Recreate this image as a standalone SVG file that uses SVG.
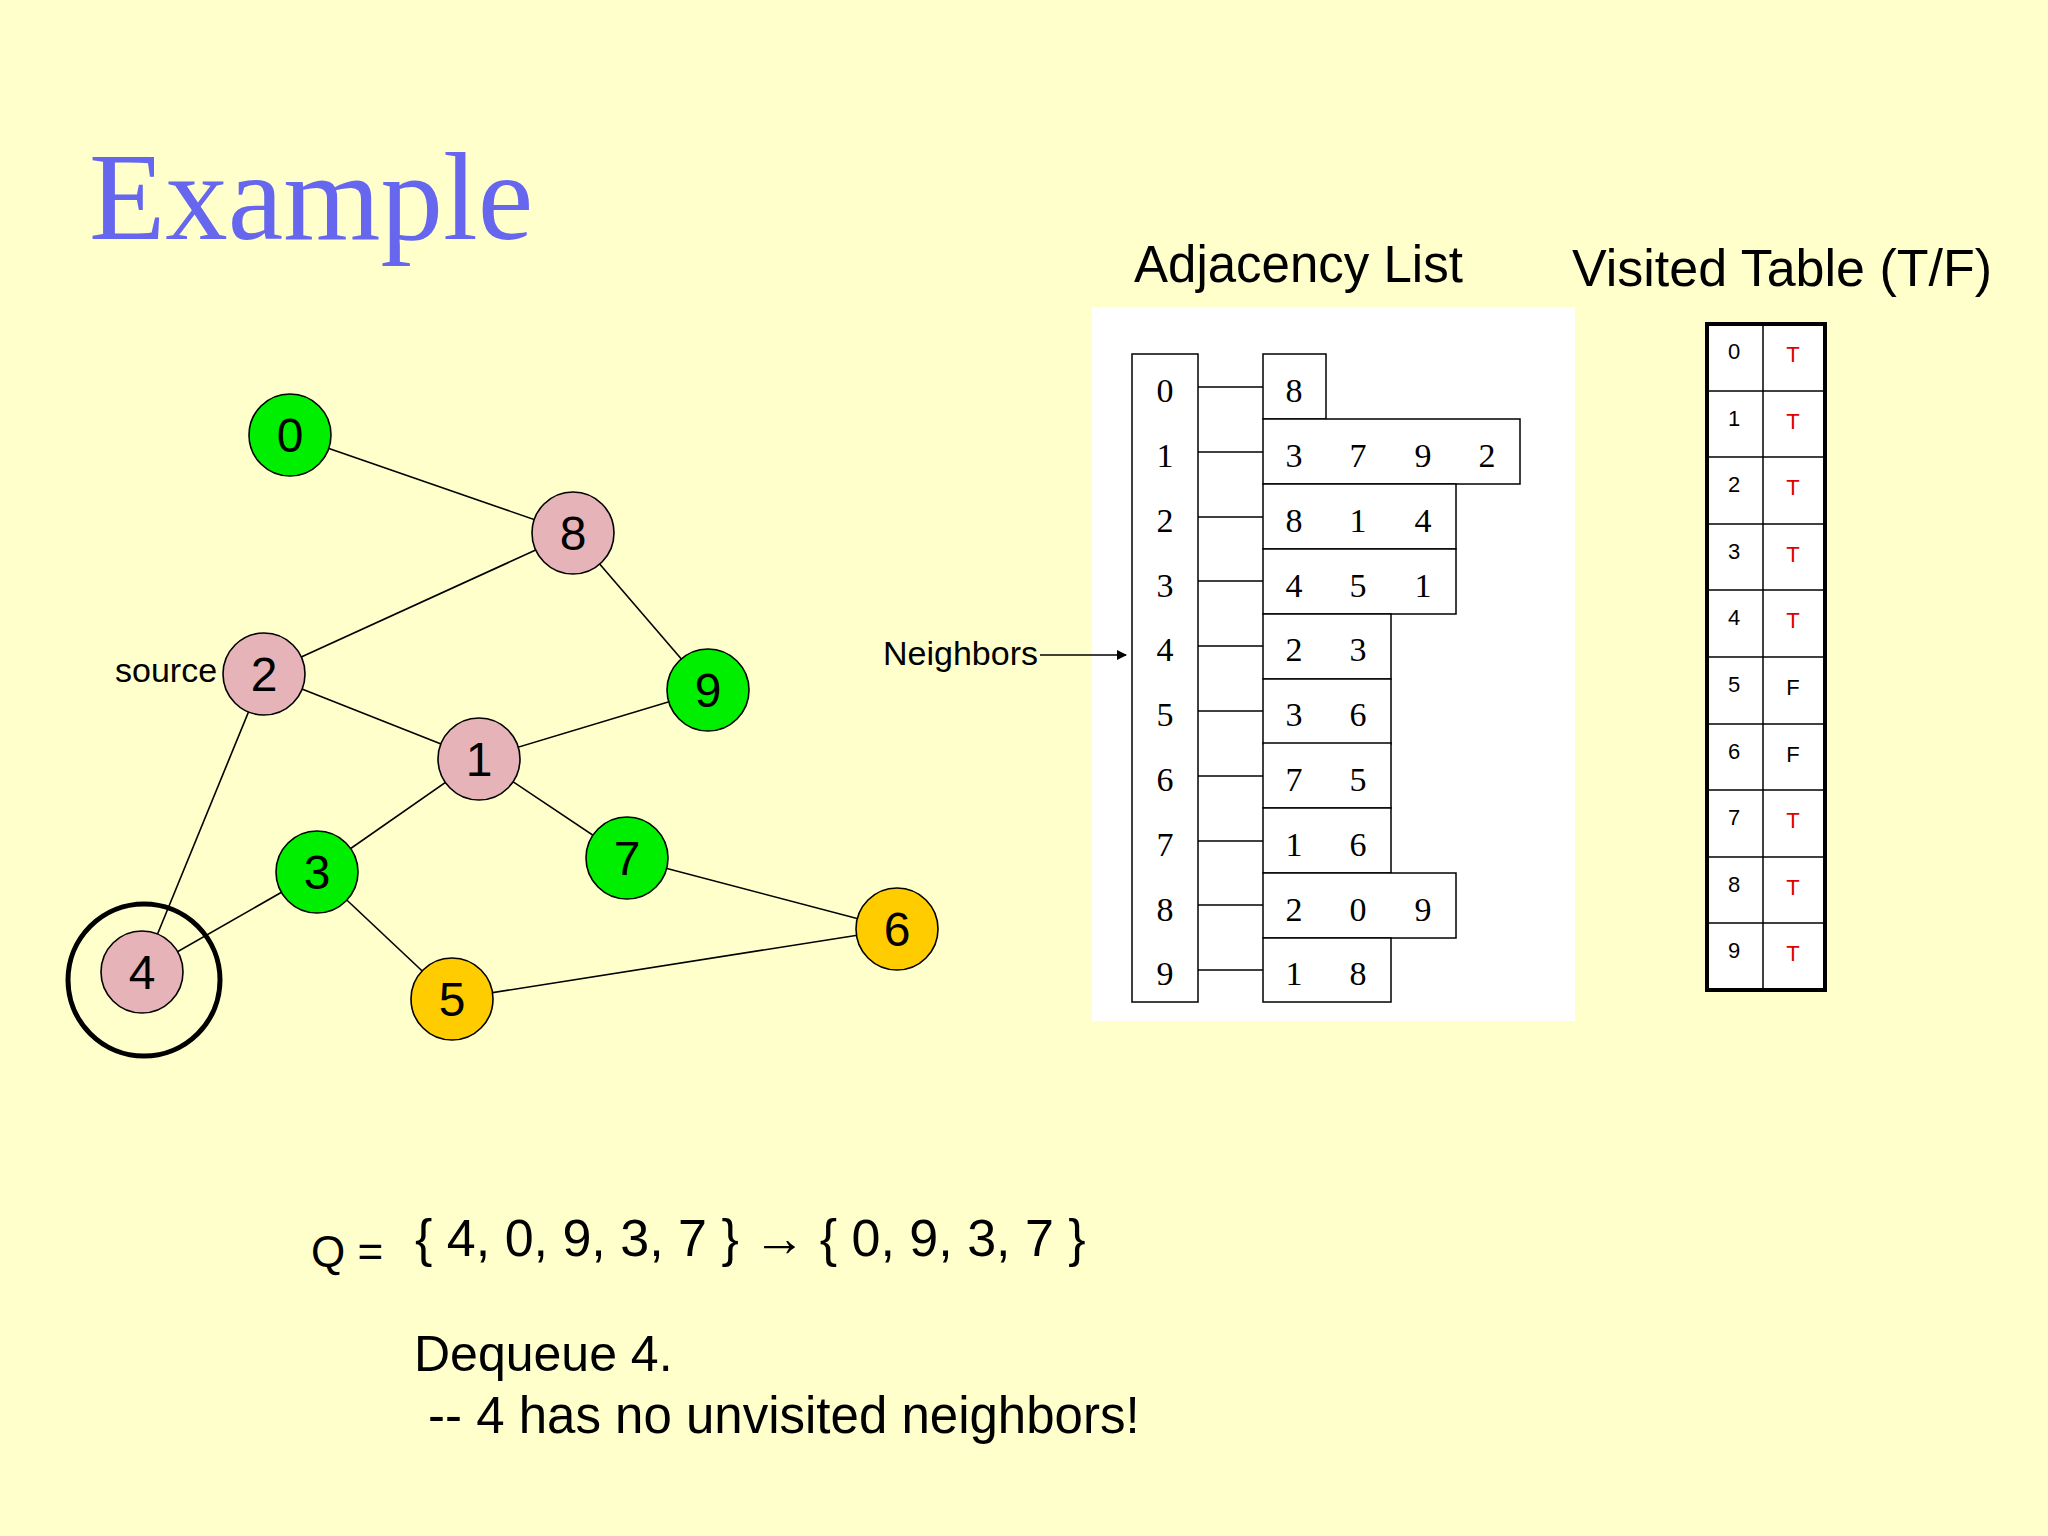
<svg xmlns="http://www.w3.org/2000/svg" width="2048" height="1536" viewBox="0 0 2048 1536">
<style>
.e{stroke:#000;stroke-width:1.6;fill:none}
.n{stroke:#000;stroke-width:1.6}
.nl{font-family:"Liberation Sans",Arial,sans-serif;font-size:48px;text-anchor:middle}
.s{font-family:"Liberation Sans",Arial,sans-serif}
.t{font-family:"Liberation Serif","Times New Roman",serif;font-size:34px;text-anchor:middle}
.b{fill:#fff;stroke:#000;stroke-width:1.5}
.v{font-family:"Liberation Sans",Arial,sans-serif;font-size:22px;text-anchor:middle}
</style>
<defs><marker id="a" markerWidth="10" markerHeight="10" refX="9" refY="5" orient="auto" markerUnits="userSpaceOnUse"><path d="M0,0L10,5L0,10z"/></marker></defs>
<rect width="2048" height="1536" fill="#FFFFCC"/>
<text x="89" y="239" font-family="Liberation Serif,Times New Roman,serif" font-size="125" fill="#6666EE">Example</text>
<g id="connectors">
<line class="e" x1="290" y1="435" x2="573" y2="533"/>
<line class="e" x1="573" y1="533" x2="264" y2="674"/>
<line class="e" x1="573" y1="533" x2="708" y2="690"/>
<line class="e" x1="264" y1="674" x2="479" y2="759"/>
<line class="e" x1="264" y1="674" x2="142" y2="972"/>
<line class="e" x1="479" y1="759" x2="708" y2="690"/>
<line class="e" x1="479" y1="759" x2="317" y2="872"/>
<line class="e" x1="479" y1="759" x2="627" y2="858"/>
<line class="e" x1="317" y1="872" x2="142" y2="972"/>
<line class="e" x1="317" y1="872" x2="452" y2="999"/>
<line class="e" x1="627" y1="858" x2="897" y2="929"/>
<line class="e" x1="452" y1="999" x2="897" y2="929"/>
</g>
<g id="node0"><circle class="n" cx="290" cy="435" r="41" fill="#00EE00"/><text class="nl" x="290" y="452">0</text></g>
<g id="node8"><circle class="n" cx="573" cy="533" r="41" fill="#E6B3B8"/><text class="nl" x="573" y="550">8</text></g>
<g id="node2"><circle class="n" cx="264" cy="674" r="41" fill="#E6B3B8"/><text class="nl" x="264" y="691">2</text></g>
<g id="node9"><circle class="n" cx="708" cy="690" r="41" fill="#00EE00"/><text class="nl" x="708" y="707">9</text></g>
<g id="node1"><circle class="n" cx="479" cy="759" r="41" fill="#E6B3B8"/><text class="nl" x="479" y="776">1</text></g>
<g id="node3"><circle class="n" cx="317" cy="872" r="41" fill="#00EE00"/><text class="nl" x="317" y="889">3</text></g>
<g id="node7"><circle class="n" cx="627" cy="858" r="41" fill="#00EE00"/><text class="nl" x="627" y="875">7</text></g>
<g id="node4"><circle class="n" cx="142" cy="972" r="41" fill="#E6B3B8"/><text class="nl" x="142" y="989">4</text><circle cx="144" cy="980" r="76" fill="none" stroke="#000" stroke-width="5"/></g>
<g id="node5"><circle class="n" cx="452" cy="999" r="41" fill="#FFCC00"/><text class="nl" x="452" y="1016">5</text></g>
<g id="node6"><circle class="n" cx="897" cy="929" r="41" fill="#FFCC00"/><text class="nl" x="897" y="946">6</text></g>
<text class="s" x="115" y="682" font-size="34">source</text>
<text class="s" x="1134" y="282" font-size="51">Adjacency List</text>
<text class="s" x="1572" y="286" font-size="52">Visited Table (T/F)</text>
<g id="adjacency">
<rect x="1092" y="307" width="483" height="714" fill="#fff"/>
<rect class="b" x="1132" y="354" width="66" height="648"/>
<g class="t">
<text x="1165" y="402">0</text><text x="1165" y="467">1</text><text x="1165" y="532">2</text><text x="1165" y="597">3</text><text x="1165" y="661">4</text><text x="1165" y="726">5</text><text x="1165" y="791">6</text><text x="1165" y="856">7</text><text x="1165" y="921">8</text><text x="1165" y="985">9</text>
</g>
<g stroke="#000" stroke-width="1.5">
<line x1="1198" y1="387" x2="1263" y2="387"/><line x1="1198" y1="452" x2="1263" y2="452"/><line x1="1198" y1="517" x2="1263" y2="517"/><line x1="1198" y1="581" x2="1263" y2="581"/><line x1="1198" y1="646" x2="1263" y2="646"/><line x1="1198" y1="711" x2="1263" y2="711"/><line x1="1198" y1="776" x2="1263" y2="776"/><line x1="1198" y1="841" x2="1263" y2="841"/><line x1="1198" y1="905" x2="1263" y2="905"/><line x1="1198" y1="970" x2="1263" y2="970"/>
</g>
<rect class="b" x="1263" y="354" width="63" height="65"/>
<rect class="b" x="1263" y="419" width="257" height="65"/>
<rect class="b" x="1263" y="484" width="193" height="65"/>
<rect class="b" x="1263" y="549" width="193" height="65"/>
<rect class="b" x="1263" y="614" width="128" height="65"/>
<rect class="b" x="1263" y="679" width="128" height="65"/>
<rect class="b" x="1263" y="743" width="128" height="65"/>
<rect class="b" x="1263" y="808" width="128" height="65"/>
<rect class="b" x="1263" y="873" width="193" height="65"/>
<rect class="b" x="1263" y="938" width="128" height="64"/>
<g class="t">
<text x="1294" y="402">8</text>
<text x="1294" y="467">3</text><text x="1358" y="467">7</text><text x="1423" y="467">9</text><text x="1487" y="467">2</text>
<text x="1294" y="532">8</text><text x="1358" y="532">1</text><text x="1423" y="532">4</text>
<text x="1294" y="597">4</text><text x="1358" y="597">5</text><text x="1423" y="597">1</text>
<text x="1294" y="661">2</text><text x="1358" y="661">3</text>
<text x="1294" y="726">3</text><text x="1358" y="726">6</text>
<text x="1294" y="791">7</text><text x="1358" y="791">5</text>
<text x="1294" y="856">1</text><text x="1358" y="856">6</text>
<text x="1294" y="921">2</text><text x="1358" y="921">0</text><text x="1423" y="921">9</text>
<text x="1294" y="985">1</text><text x="1358" y="985">8</text>
</g>
</g>
<g id="neighbors">
<text class="s" x="1038" y="665" font-size="34" text-anchor="end">Neighbors</text>
<line x1="1040" y1="655" x2="1126" y2="655" stroke="#000" stroke-width="1.6" marker-end="url(#a)"/>
</g>
<g id="visited">
<rect x="1707" y="324" width="118" height="666" fill="#fff" stroke="#000" stroke-width="4"/>
<line x1="1763" y1="324" x2="1763" y2="990" stroke="#000" stroke-width="1.5"/>
<g stroke="#000" stroke-width="1.5">
<line x1="1707" y1="391" x2="1825" y2="391"/><line x1="1707" y1="457" x2="1825" y2="457"/><line x1="1707" y1="524" x2="1825" y2="524"/><line x1="1707" y1="590" x2="1825" y2="590"/><line x1="1707" y1="657" x2="1825" y2="657"/><line x1="1707" y1="724" x2="1825" y2="724"/><line x1="1707" y1="790" x2="1825" y2="790"/><line x1="1707" y1="857" x2="1825" y2="857"/><line x1="1707" y1="923" x2="1825" y2="923"/>
</g>
<g class="v">
<text x="1734" y="359">0</text><text x="1734" y="426">1</text><text x="1734" y="492">2</text><text x="1734" y="559">3</text><text x="1734" y="625">4</text><text x="1734" y="692">5</text><text x="1734" y="759">6</text><text x="1734" y="825">7</text><text x="1734" y="892">8</text><text x="1734" y="958">9</text>
</g>
<g class="v" font-size="27">
<text x="1793" y="362" fill="#E00000">T</text><text x="1793" y="429" fill="#E00000">T</text><text x="1793" y="495" fill="#E00000">T</text><text x="1793" y="562" fill="#E00000">T</text><text x="1793" y="628" fill="#E00000">T</text><text x="1793" y="695">F</text><text x="1793" y="762">F</text><text x="1793" y="828" fill="#E00000">T</text><text x="1793" y="895" fill="#E00000">T</text><text x="1793" y="961" fill="#E00000">T</text>
</g>
</g>
<text class="s" x="311" y="1267" font-size="44">Q = </text>
<text class="s" x="415" y="1256" font-size="52">{ 4, 0, 9, 3, 7 } → { 0, 9, 3, 7 }</text>
<text class="s" x="414" y="1371" font-size="50">Dequeue 4.</text>
<text class="s" x="428" y="1433" font-size="51">-- 4 has no unvisited neighbors!</text>
</svg>
